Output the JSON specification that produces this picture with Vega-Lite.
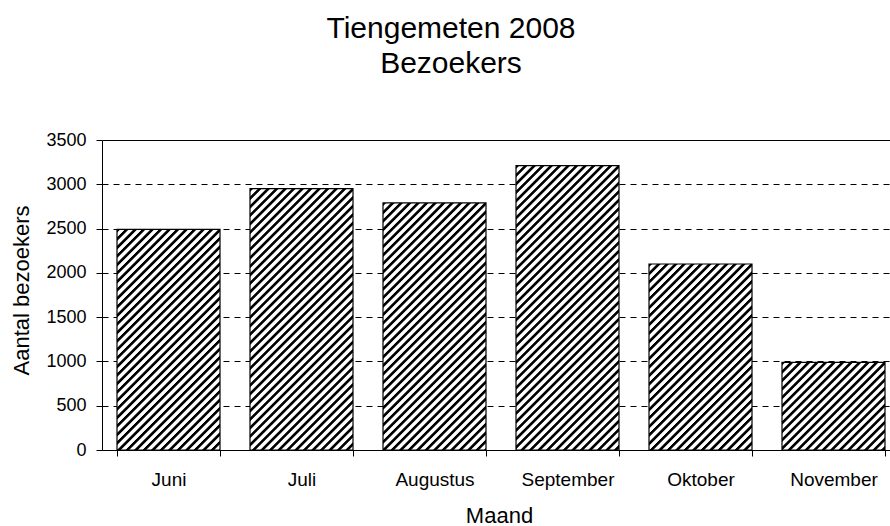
{
"$schema":"https://vega.github.io/schema/vega-lite/v6.json",
"autosize":{"type":"none"},
"padding":{"left":102,"top":140,"right":0,"bottom":76},
"width":788,"height":310,
"background":"white",
"config":{"view":{"stroke":null},"font":"Liberation Sans"},
"title":{"text":["Tiengemeten 2008","Bezoekers"],"font":"Liberation Sans","fontSize":30,"fontWeight":"normal","color":"black","lineHeight":35,"anchor":"middle","frame":"group","dx":-45,"offset":52},
"data":{"values":[
{"Maand":"Juni","Bezoekers":2490},
{"Maand":"Juli","Bezoekers":2950},
{"Maand":"Augustus","Bezoekers":2790},
{"Maand":"September","Bezoekers":3210},
{"Maand":"Oktober","Bezoekers":2100},
{"Maand":"November","Bezoekers":990}
]},
"mark":{"type":"bar","stroke":"black","strokeWidth":1.2},
"encoding":{
"x":{"field":"Maand","type":"nominal","sort":null,
"scale":{"range":[0,798],"paddingInner":0.225564,"paddingOuter":0.112782},
"axis":{"title":"Maand","titleFont":"Liberation Sans","titleFontSize":22,"titleFontWeight":"normal","titleColor":"black","titleX":397,"titleY":72,"titleBaseline":"alphabetic","titleAlign":"center","labelAngle":0,"labelFont":"Liberation Sans","labelFontSize":19,"labelColor":"black","labelPadding":14,"tickSize":6,"tickColor":"black","tickWidth":1,"domainColor":"black","domainWidth":1,"tickBand":"extent","grid":false}},
"y":{"field":"Bezoekers","type":"quantitative",
"scale":{"domain":[0,3500],"nice":false},
"axis":{"title":"Aantal bezoekers","titleFont":"Liberation Sans","titleFontSize":22,"titleFontWeight":"normal","titleColor":"black","titleX":-74,"titleY":150,"titleAngle":-90,"titleBaseline":"alphabetic","titleAlign":"center","values":[0,500,1000,1500,2000,2500,3000,3500],"format":"d","labelFont":"Liberation Sans","labelFontSize":18,"labelColor":"black","labelPadding":10,"tickSize":6,"tickColor":"black","tickWidth":1,"domainColor":"black","domainWidth":1,"grid":true,"gridColor":"black","gridWidth":1,"gridDash":{"condition":{"test":"datum.value === 3500","value":[]},"value":[6,5]}}},
"fill":{"condition":[
{"test":"datum.Maand==='Juni'","value":{"gradient":"linear","x1":0,"y1":0,"x2":0.7389,"y2":1.5821,"stops":[
{"offset":0,"color":"#000"},{"offset":0.006,"color":"#000"},{"offset":0.009,"color":"#fff"},{"offset":0.0175,"color":"#fff"},
{"offset":0.02,"color":"#000"},{"offset":0.026,"color":"#000"},{"offset":0.029,"color":"#fff"},{"offset":0.0375,"color":"#fff"},
{"offset":0.04,"color":"#000"},{"offset":0.046,"color":"#000"},{"offset":0.049,"color":"#fff"},{"offset":0.0575,"color":"#fff"},
{"offset":0.06,"color":"#000"},{"offset":0.066,"color":"#000"},{"offset":0.069,"color":"#fff"},{"offset":0.0775,"color":"#fff"},
{"offset":0.08,"color":"#000"},{"offset":0.086,"color":"#000"},{"offset":0.089,"color":"#fff"},{"offset":0.0975,"color":"#fff"},
{"offset":0.1,"color":"#000"},{"offset":0.106,"color":"#000"},{"offset":0.109,"color":"#fff"},{"offset":0.1175,"color":"#fff"},
{"offset":0.12,"color":"#000"},{"offset":0.126,"color":"#000"},{"offset":0.129,"color":"#fff"},{"offset":0.1375,"color":"#fff"},
{"offset":0.14,"color":"#000"},{"offset":0.146,"color":"#000"},{"offset":0.149,"color":"#fff"},{"offset":0.1575,"color":"#fff"},
{"offset":0.16,"color":"#000"},{"offset":0.166,"color":"#000"},{"offset":0.169,"color":"#fff"},{"offset":0.1775,"color":"#fff"},
{"offset":0.18,"color":"#000"},{"offset":0.186,"color":"#000"},{"offset":0.189,"color":"#fff"},{"offset":0.1975,"color":"#fff"},
{"offset":0.2,"color":"#000"},{"offset":0.206,"color":"#000"},{"offset":0.209,"color":"#fff"},{"offset":0.2175,"color":"#fff"},
{"offset":0.22,"color":"#000"},{"offset":0.226,"color":"#000"},{"offset":0.229,"color":"#fff"},{"offset":0.2375,"color":"#fff"},
{"offset":0.24,"color":"#000"},{"offset":0.246,"color":"#000"},{"offset":0.249,"color":"#fff"},{"offset":0.2575,"color":"#fff"},
{"offset":0.26,"color":"#000"},{"offset":0.266,"color":"#000"},{"offset":0.269,"color":"#fff"},{"offset":0.2775,"color":"#fff"},
{"offset":0.28,"color":"#000"},{"offset":0.286,"color":"#000"},{"offset":0.289,"color":"#fff"},{"offset":0.2975,"color":"#fff"},
{"offset":0.3,"color":"#000"},{"offset":0.306,"color":"#000"},{"offset":0.309,"color":"#fff"},{"offset":0.3175,"color":"#fff"},
{"offset":0.32,"color":"#000"},{"offset":0.326,"color":"#000"},{"offset":0.329,"color":"#fff"},{"offset":0.3375,"color":"#fff"},
{"offset":0.34,"color":"#000"},{"offset":0.346,"color":"#000"},{"offset":0.349,"color":"#fff"},{"offset":0.3575,"color":"#fff"},
{"offset":0.36,"color":"#000"},{"offset":0.366,"color":"#000"},{"offset":0.369,"color":"#fff"},{"offset":0.3775,"color":"#fff"},
{"offset":0.38,"color":"#000"},{"offset":0.386,"color":"#000"},{"offset":0.389,"color":"#fff"},{"offset":0.3975,"color":"#fff"},
{"offset":0.4,"color":"#000"},{"offset":0.406,"color":"#000"},{"offset":0.409,"color":"#fff"},{"offset":0.4175,"color":"#fff"},
{"offset":0.42,"color":"#000"},{"offset":0.426,"color":"#000"},{"offset":0.429,"color":"#fff"},{"offset":0.4375,"color":"#fff"},
{"offset":0.44,"color":"#000"},{"offset":0.446,"color":"#000"},{"offset":0.449,"color":"#fff"},{"offset":0.4575,"color":"#fff"},
{"offset":0.46,"color":"#000"},{"offset":0.466,"color":"#000"},{"offset":0.469,"color":"#fff"},{"offset":0.4775,"color":"#fff"},
{"offset":0.48,"color":"#000"},{"offset":0.486,"color":"#000"},{"offset":0.489,"color":"#fff"},{"offset":0.4975,"color":"#fff"},
{"offset":0.5,"color":"#000"},{"offset":0.506,"color":"#000"},{"offset":0.509,"color":"#fff"},{"offset":0.5175,"color":"#fff"},
{"offset":0.52,"color":"#000"},{"offset":0.526,"color":"#000"},{"offset":0.529,"color":"#fff"},{"offset":0.5375,"color":"#fff"},
{"offset":0.54,"color":"#000"},{"offset":0.546,"color":"#000"},{"offset":0.549,"color":"#fff"},{"offset":0.5575,"color":"#fff"},
{"offset":0.56,"color":"#000"},{"offset":0.566,"color":"#000"},{"offset":0.569,"color":"#fff"},{"offset":0.5775,"color":"#fff"},
{"offset":0.58,"color":"#000"},{"offset":0.586,"color":"#000"},{"offset":0.589,"color":"#fff"},{"offset":0.5975,"color":"#fff"},
{"offset":0.6,"color":"#000"},{"offset":0.606,"color":"#000"},{"offset":0.609,"color":"#fff"},{"offset":0.6175,"color":"#fff"},
{"offset":0.62,"color":"#000"},{"offset":0.626,"color":"#000"},{"offset":0.629,"color":"#fff"},{"offset":0.6375,"color":"#fff"},
{"offset":0.64,"color":"#000"},{"offset":0.646,"color":"#000"},{"offset":0.649,"color":"#fff"},{"offset":0.6575,"color":"#fff"},
{"offset":0.66,"color":"#000"},{"offset":0.666,"color":"#000"},{"offset":0.669,"color":"#fff"},{"offset":0.6775,"color":"#fff"},
{"offset":0.68,"color":"#000"},{"offset":0.686,"color":"#000"},{"offset":0.689,"color":"#fff"},{"offset":0.6975,"color":"#fff"},
{"offset":0.7,"color":"#000"},{"offset":0.706,"color":"#000"},{"offset":0.709,"color":"#fff"},{"offset":0.7175,"color":"#fff"},
{"offset":0.72,"color":"#000"},{"offset":0.726,"color":"#000"},{"offset":0.729,"color":"#fff"},{"offset":0.7375,"color":"#fff"},
{"offset":0.74,"color":"#000"},{"offset":0.746,"color":"#000"},{"offset":0.749,"color":"#fff"},{"offset":0.7575,"color":"#fff"},
{"offset":0.76,"color":"#000"},{"offset":0.766,"color":"#000"},{"offset":0.769,"color":"#fff"},{"offset":0.7775,"color":"#fff"}
]}},
{"test":"datum.Maand==='Juli'","value":{"gradient":"linear","x1":0,"y1":0,"x2":0.5549,"y2":1.4078,"stops":[
{"offset":0,"color":"#000"},{"offset":0.006,"color":"#000"},{"offset":0.009,"color":"#fff"},{"offset":0.0175,"color":"#fff"},
{"offset":0.02,"color":"#000"},{"offset":0.026,"color":"#000"},{"offset":0.029,"color":"#fff"},{"offset":0.0375,"color":"#fff"},
{"offset":0.04,"color":"#000"},{"offset":0.046,"color":"#000"},{"offset":0.049,"color":"#fff"},{"offset":0.0575,"color":"#fff"},
{"offset":0.06,"color":"#000"},{"offset":0.066,"color":"#000"},{"offset":0.069,"color":"#fff"},{"offset":0.0775,"color":"#fff"},
{"offset":0.08,"color":"#000"},{"offset":0.086,"color":"#000"},{"offset":0.089,"color":"#fff"},{"offset":0.0975,"color":"#fff"},
{"offset":0.1,"color":"#000"},{"offset":0.106,"color":"#000"},{"offset":0.109,"color":"#fff"},{"offset":0.1175,"color":"#fff"},
{"offset":0.12,"color":"#000"},{"offset":0.126,"color":"#000"},{"offset":0.129,"color":"#fff"},{"offset":0.1375,"color":"#fff"},
{"offset":0.14,"color":"#000"},{"offset":0.146,"color":"#000"},{"offset":0.149,"color":"#fff"},{"offset":0.1575,"color":"#fff"},
{"offset":0.16,"color":"#000"},{"offset":0.166,"color":"#000"},{"offset":0.169,"color":"#fff"},{"offset":0.1775,"color":"#fff"},
{"offset":0.18,"color":"#000"},{"offset":0.186,"color":"#000"},{"offset":0.189,"color":"#fff"},{"offset":0.1975,"color":"#fff"},
{"offset":0.2,"color":"#000"},{"offset":0.206,"color":"#000"},{"offset":0.209,"color":"#fff"},{"offset":0.2175,"color":"#fff"},
{"offset":0.22,"color":"#000"},{"offset":0.226,"color":"#000"},{"offset":0.229,"color":"#fff"},{"offset":0.2375,"color":"#fff"},
{"offset":0.24,"color":"#000"},{"offset":0.246,"color":"#000"},{"offset":0.249,"color":"#fff"},{"offset":0.2575,"color":"#fff"},
{"offset":0.26,"color":"#000"},{"offset":0.266,"color":"#000"},{"offset":0.269,"color":"#fff"},{"offset":0.2775,"color":"#fff"},
{"offset":0.28,"color":"#000"},{"offset":0.286,"color":"#000"},{"offset":0.289,"color":"#fff"},{"offset":0.2975,"color":"#fff"},
{"offset":0.3,"color":"#000"},{"offset":0.306,"color":"#000"},{"offset":0.309,"color":"#fff"},{"offset":0.3175,"color":"#fff"},
{"offset":0.32,"color":"#000"},{"offset":0.326,"color":"#000"},{"offset":0.329,"color":"#fff"},{"offset":0.3375,"color":"#fff"},
{"offset":0.34,"color":"#000"},{"offset":0.346,"color":"#000"},{"offset":0.349,"color":"#fff"},{"offset":0.3575,"color":"#fff"},
{"offset":0.36,"color":"#000"},{"offset":0.366,"color":"#000"},{"offset":0.369,"color":"#fff"},{"offset":0.3775,"color":"#fff"},
{"offset":0.38,"color":"#000"},{"offset":0.386,"color":"#000"},{"offset":0.389,"color":"#fff"},{"offset":0.3975,"color":"#fff"},
{"offset":0.4,"color":"#000"},{"offset":0.406,"color":"#000"},{"offset":0.409,"color":"#fff"},{"offset":0.4175,"color":"#fff"},
{"offset":0.42,"color":"#000"},{"offset":0.426,"color":"#000"},{"offset":0.429,"color":"#fff"},{"offset":0.4375,"color":"#fff"},
{"offset":0.44,"color":"#000"},{"offset":0.446,"color":"#000"},{"offset":0.449,"color":"#fff"},{"offset":0.4575,"color":"#fff"},
{"offset":0.46,"color":"#000"},{"offset":0.466,"color":"#000"},{"offset":0.469,"color":"#fff"},{"offset":0.4775,"color":"#fff"},
{"offset":0.48,"color":"#000"},{"offset":0.486,"color":"#000"},{"offset":0.489,"color":"#fff"},{"offset":0.4975,"color":"#fff"},
{"offset":0.5,"color":"#000"},{"offset":0.506,"color":"#000"},{"offset":0.509,"color":"#fff"},{"offset":0.5175,"color":"#fff"},
{"offset":0.52,"color":"#000"},{"offset":0.526,"color":"#000"},{"offset":0.529,"color":"#fff"},{"offset":0.5375,"color":"#fff"},
{"offset":0.54,"color":"#000"},{"offset":0.546,"color":"#000"},{"offset":0.549,"color":"#fff"},{"offset":0.5575,"color":"#fff"},
{"offset":0.56,"color":"#000"},{"offset":0.566,"color":"#000"},{"offset":0.569,"color":"#fff"},{"offset":0.5775,"color":"#fff"},
{"offset":0.58,"color":"#000"},{"offset":0.586,"color":"#000"},{"offset":0.589,"color":"#fff"},{"offset":0.5975,"color":"#fff"},
{"offset":0.6,"color":"#000"},{"offset":0.606,"color":"#000"},{"offset":0.609,"color":"#fff"},{"offset":0.6175,"color":"#fff"},
{"offset":0.62,"color":"#000"},{"offset":0.626,"color":"#000"},{"offset":0.629,"color":"#fff"},{"offset":0.6375,"color":"#fff"},
{"offset":0.64,"color":"#000"},{"offset":0.646,"color":"#000"},{"offset":0.649,"color":"#fff"},{"offset":0.6575,"color":"#fff"},
{"offset":0.66,"color":"#000"},{"offset":0.666,"color":"#000"},{"offset":0.669,"color":"#fff"},{"offset":0.6775,"color":"#fff"},
{"offset":0.68,"color":"#000"},{"offset":0.686,"color":"#000"},{"offset":0.689,"color":"#fff"},{"offset":0.6975,"color":"#fff"},
{"offset":0.7,"color":"#000"},{"offset":0.706,"color":"#000"},{"offset":0.709,"color":"#fff"},{"offset":0.7175,"color":"#fff"},
{"offset":0.72,"color":"#000"},{"offset":0.726,"color":"#000"},{"offset":0.729,"color":"#fff"},{"offset":0.7375,"color":"#fff"},
{"offset":0.74,"color":"#000"},{"offset":0.746,"color":"#000"},{"offset":0.749,"color":"#fff"},{"offset":0.7575,"color":"#fff"},
{"offset":0.76,"color":"#000"},{"offset":0.766,"color":"#000"},{"offset":0.769,"color":"#fff"},{"offset":0.7775,"color":"#fff"},
{"offset":0.78,"color":"#000"},{"offset":0.786,"color":"#000"},{"offset":0.789,"color":"#fff"},{"offset":0.7975,"color":"#fff"},
{"offset":0.8,"color":"#000"},{"offset":0.806,"color":"#000"},{"offset":0.809,"color":"#fff"},{"offset":0.8175,"color":"#fff"},
{"offset":0.82,"color":"#000"},{"offset":0.826,"color":"#000"},{"offset":0.829,"color":"#fff"},{"offset":0.8375,"color":"#fff"},
{"offset":0.84,"color":"#000"},{"offset":0.846,"color":"#000"},{"offset":0.849,"color":"#fff"},{"offset":0.8575,"color":"#fff"}
]}},
{"test":"datum.Maand==='Augustus'","value":{"gradient":"linear","x1":0,"y1":0,"x2":0.6107,"y2":1.4653,"stops":[
{"offset":0,"color":"#000"},{"offset":0.006,"color":"#000"},{"offset":0.009,"color":"#fff"},{"offset":0.0175,"color":"#fff"},
{"offset":0.02,"color":"#000"},{"offset":0.026,"color":"#000"},{"offset":0.029,"color":"#fff"},{"offset":0.0375,"color":"#fff"},
{"offset":0.04,"color":"#000"},{"offset":0.046,"color":"#000"},{"offset":0.049,"color":"#fff"},{"offset":0.0575,"color":"#fff"},
{"offset":0.06,"color":"#000"},{"offset":0.066,"color":"#000"},{"offset":0.069,"color":"#fff"},{"offset":0.0775,"color":"#fff"},
{"offset":0.08,"color":"#000"},{"offset":0.086,"color":"#000"},{"offset":0.089,"color":"#fff"},{"offset":0.0975,"color":"#fff"},
{"offset":0.1,"color":"#000"},{"offset":0.106,"color":"#000"},{"offset":0.109,"color":"#fff"},{"offset":0.1175,"color":"#fff"},
{"offset":0.12,"color":"#000"},{"offset":0.126,"color":"#000"},{"offset":0.129,"color":"#fff"},{"offset":0.1375,"color":"#fff"},
{"offset":0.14,"color":"#000"},{"offset":0.146,"color":"#000"},{"offset":0.149,"color":"#fff"},{"offset":0.1575,"color":"#fff"},
{"offset":0.16,"color":"#000"},{"offset":0.166,"color":"#000"},{"offset":0.169,"color":"#fff"},{"offset":0.1775,"color":"#fff"},
{"offset":0.18,"color":"#000"},{"offset":0.186,"color":"#000"},{"offset":0.189,"color":"#fff"},{"offset":0.1975,"color":"#fff"},
{"offset":0.2,"color":"#000"},{"offset":0.206,"color":"#000"},{"offset":0.209,"color":"#fff"},{"offset":0.2175,"color":"#fff"},
{"offset":0.22,"color":"#000"},{"offset":0.226,"color":"#000"},{"offset":0.229,"color":"#fff"},{"offset":0.2375,"color":"#fff"},
{"offset":0.24,"color":"#000"},{"offset":0.246,"color":"#000"},{"offset":0.249,"color":"#fff"},{"offset":0.2575,"color":"#fff"},
{"offset":0.26,"color":"#000"},{"offset":0.266,"color":"#000"},{"offset":0.269,"color":"#fff"},{"offset":0.2775,"color":"#fff"},
{"offset":0.28,"color":"#000"},{"offset":0.286,"color":"#000"},{"offset":0.289,"color":"#fff"},{"offset":0.2975,"color":"#fff"},
{"offset":0.3,"color":"#000"},{"offset":0.306,"color":"#000"},{"offset":0.309,"color":"#fff"},{"offset":0.3175,"color":"#fff"},
{"offset":0.32,"color":"#000"},{"offset":0.326,"color":"#000"},{"offset":0.329,"color":"#fff"},{"offset":0.3375,"color":"#fff"},
{"offset":0.34,"color":"#000"},{"offset":0.346,"color":"#000"},{"offset":0.349,"color":"#fff"},{"offset":0.3575,"color":"#fff"},
{"offset":0.36,"color":"#000"},{"offset":0.366,"color":"#000"},{"offset":0.369,"color":"#fff"},{"offset":0.3775,"color":"#fff"},
{"offset":0.38,"color":"#000"},{"offset":0.386,"color":"#000"},{"offset":0.389,"color":"#fff"},{"offset":0.3975,"color":"#fff"},
{"offset":0.4,"color":"#000"},{"offset":0.406,"color":"#000"},{"offset":0.409,"color":"#fff"},{"offset":0.4175,"color":"#fff"},
{"offset":0.42,"color":"#000"},{"offset":0.426,"color":"#000"},{"offset":0.429,"color":"#fff"},{"offset":0.4375,"color":"#fff"},
{"offset":0.44,"color":"#000"},{"offset":0.446,"color":"#000"},{"offset":0.449,"color":"#fff"},{"offset":0.4575,"color":"#fff"},
{"offset":0.46,"color":"#000"},{"offset":0.466,"color":"#000"},{"offset":0.469,"color":"#fff"},{"offset":0.4775,"color":"#fff"},
{"offset":0.48,"color":"#000"},{"offset":0.486,"color":"#000"},{"offset":0.489,"color":"#fff"},{"offset":0.4975,"color":"#fff"},
{"offset":0.5,"color":"#000"},{"offset":0.506,"color":"#000"},{"offset":0.509,"color":"#fff"},{"offset":0.5175,"color":"#fff"},
{"offset":0.52,"color":"#000"},{"offset":0.526,"color":"#000"},{"offset":0.529,"color":"#fff"},{"offset":0.5375,"color":"#fff"},
{"offset":0.54,"color":"#000"},{"offset":0.546,"color":"#000"},{"offset":0.549,"color":"#fff"},{"offset":0.5575,"color":"#fff"},
{"offset":0.56,"color":"#000"},{"offset":0.566,"color":"#000"},{"offset":0.569,"color":"#fff"},{"offset":0.5775,"color":"#fff"},
{"offset":0.58,"color":"#000"},{"offset":0.586,"color":"#000"},{"offset":0.589,"color":"#fff"},{"offset":0.5975,"color":"#fff"},
{"offset":0.6,"color":"#000"},{"offset":0.606,"color":"#000"},{"offset":0.609,"color":"#fff"},{"offset":0.6175,"color":"#fff"},
{"offset":0.62,"color":"#000"},{"offset":0.626,"color":"#000"},{"offset":0.629,"color":"#fff"},{"offset":0.6375,"color":"#fff"},
{"offset":0.64,"color":"#000"},{"offset":0.646,"color":"#000"},{"offset":0.649,"color":"#fff"},{"offset":0.6575,"color":"#fff"},
{"offset":0.66,"color":"#000"},{"offset":0.666,"color":"#000"},{"offset":0.669,"color":"#fff"},{"offset":0.6775,"color":"#fff"},
{"offset":0.68,"color":"#000"},{"offset":0.686,"color":"#000"},{"offset":0.689,"color":"#fff"},{"offset":0.6975,"color":"#fff"},
{"offset":0.7,"color":"#000"},{"offset":0.706,"color":"#000"},{"offset":0.709,"color":"#fff"},{"offset":0.7175,"color":"#fff"},
{"offset":0.72,"color":"#000"},{"offset":0.726,"color":"#000"},{"offset":0.729,"color":"#fff"},{"offset":0.7375,"color":"#fff"},
{"offset":0.74,"color":"#000"},{"offset":0.746,"color":"#000"},{"offset":0.749,"color":"#fff"},{"offset":0.7575,"color":"#fff"},
{"offset":0.76,"color":"#000"},{"offset":0.766,"color":"#000"},{"offset":0.769,"color":"#fff"},{"offset":0.7775,"color":"#fff"},
{"offset":0.78,"color":"#000"},{"offset":0.786,"color":"#000"},{"offset":0.789,"color":"#fff"},{"offset":0.7975,"color":"#fff"},
{"offset":0.8,"color":"#000"},{"offset":0.806,"color":"#000"},{"offset":0.809,"color":"#fff"},{"offset":0.8175,"color":"#fff"},
{"offset":0.82,"color":"#000"},{"offset":0.826,"color":"#000"},{"offset":0.829,"color":"#fff"},{"offset":0.8375,"color":"#fff"}
]}},
{"test":"datum.Maand==='September'","value":{"gradient":"linear","x1":0,"y1":0,"x2":0.4788,"y2":1.3214,"stops":[
{"offset":0,"color":"#000"},{"offset":0.006,"color":"#000"},{"offset":0.009,"color":"#fff"},{"offset":0.0175,"color":"#fff"},
{"offset":0.02,"color":"#000"},{"offset":0.026,"color":"#000"},{"offset":0.029,"color":"#fff"},{"offset":0.0375,"color":"#fff"},
{"offset":0.04,"color":"#000"},{"offset":0.046,"color":"#000"},{"offset":0.049,"color":"#fff"},{"offset":0.0575,"color":"#fff"},
{"offset":0.06,"color":"#000"},{"offset":0.066,"color":"#000"},{"offset":0.069,"color":"#fff"},{"offset":0.0775,"color":"#fff"},
{"offset":0.08,"color":"#000"},{"offset":0.086,"color":"#000"},{"offset":0.089,"color":"#fff"},{"offset":0.0975,"color":"#fff"},
{"offset":0.1,"color":"#000"},{"offset":0.106,"color":"#000"},{"offset":0.109,"color":"#fff"},{"offset":0.1175,"color":"#fff"},
{"offset":0.12,"color":"#000"},{"offset":0.126,"color":"#000"},{"offset":0.129,"color":"#fff"},{"offset":0.1375,"color":"#fff"},
{"offset":0.14,"color":"#000"},{"offset":0.146,"color":"#000"},{"offset":0.149,"color":"#fff"},{"offset":0.1575,"color":"#fff"},
{"offset":0.16,"color":"#000"},{"offset":0.166,"color":"#000"},{"offset":0.169,"color":"#fff"},{"offset":0.1775,"color":"#fff"},
{"offset":0.18,"color":"#000"},{"offset":0.186,"color":"#000"},{"offset":0.189,"color":"#fff"},{"offset":0.1975,"color":"#fff"},
{"offset":0.2,"color":"#000"},{"offset":0.206,"color":"#000"},{"offset":0.209,"color":"#fff"},{"offset":0.2175,"color":"#fff"},
{"offset":0.22,"color":"#000"},{"offset":0.226,"color":"#000"},{"offset":0.229,"color":"#fff"},{"offset":0.2375,"color":"#fff"},
{"offset":0.24,"color":"#000"},{"offset":0.246,"color":"#000"},{"offset":0.249,"color":"#fff"},{"offset":0.2575,"color":"#fff"},
{"offset":0.26,"color":"#000"},{"offset":0.266,"color":"#000"},{"offset":0.269,"color":"#fff"},{"offset":0.2775,"color":"#fff"},
{"offset":0.28,"color":"#000"},{"offset":0.286,"color":"#000"},{"offset":0.289,"color":"#fff"},{"offset":0.2975,"color":"#fff"},
{"offset":0.3,"color":"#000"},{"offset":0.306,"color":"#000"},{"offset":0.309,"color":"#fff"},{"offset":0.3175,"color":"#fff"},
{"offset":0.32,"color":"#000"},{"offset":0.326,"color":"#000"},{"offset":0.329,"color":"#fff"},{"offset":0.3375,"color":"#fff"},
{"offset":0.34,"color":"#000"},{"offset":0.346,"color":"#000"},{"offset":0.349,"color":"#fff"},{"offset":0.3575,"color":"#fff"},
{"offset":0.36,"color":"#000"},{"offset":0.366,"color":"#000"},{"offset":0.369,"color":"#fff"},{"offset":0.3775,"color":"#fff"},
{"offset":0.38,"color":"#000"},{"offset":0.386,"color":"#000"},{"offset":0.389,"color":"#fff"},{"offset":0.3975,"color":"#fff"},
{"offset":0.4,"color":"#000"},{"offset":0.406,"color":"#000"},{"offset":0.409,"color":"#fff"},{"offset":0.4175,"color":"#fff"},
{"offset":0.42,"color":"#000"},{"offset":0.426,"color":"#000"},{"offset":0.429,"color":"#fff"},{"offset":0.4375,"color":"#fff"},
{"offset":0.44,"color":"#000"},{"offset":0.446,"color":"#000"},{"offset":0.449,"color":"#fff"},{"offset":0.4575,"color":"#fff"},
{"offset":0.46,"color":"#000"},{"offset":0.466,"color":"#000"},{"offset":0.469,"color":"#fff"},{"offset":0.4775,"color":"#fff"},
{"offset":0.48,"color":"#000"},{"offset":0.486,"color":"#000"},{"offset":0.489,"color":"#fff"},{"offset":0.4975,"color":"#fff"},
{"offset":0.5,"color":"#000"},{"offset":0.506,"color":"#000"},{"offset":0.509,"color":"#fff"},{"offset":0.5175,"color":"#fff"},
{"offset":0.52,"color":"#000"},{"offset":0.526,"color":"#000"},{"offset":0.529,"color":"#fff"},{"offset":0.5375,"color":"#fff"},
{"offset":0.54,"color":"#000"},{"offset":0.546,"color":"#000"},{"offset":0.549,"color":"#fff"},{"offset":0.5575,"color":"#fff"},
{"offset":0.56,"color":"#000"},{"offset":0.566,"color":"#000"},{"offset":0.569,"color":"#fff"},{"offset":0.5775,"color":"#fff"},
{"offset":0.58,"color":"#000"},{"offset":0.586,"color":"#000"},{"offset":0.589,"color":"#fff"},{"offset":0.5975,"color":"#fff"},
{"offset":0.6,"color":"#000"},{"offset":0.606,"color":"#000"},{"offset":0.609,"color":"#fff"},{"offset":0.6175,"color":"#fff"},
{"offset":0.62,"color":"#000"},{"offset":0.626,"color":"#000"},{"offset":0.629,"color":"#fff"},{"offset":0.6375,"color":"#fff"},
{"offset":0.64,"color":"#000"},{"offset":0.646,"color":"#000"},{"offset":0.649,"color":"#fff"},{"offset":0.6575,"color":"#fff"},
{"offset":0.66,"color":"#000"},{"offset":0.666,"color":"#000"},{"offset":0.669,"color":"#fff"},{"offset":0.6775,"color":"#fff"},
{"offset":0.68,"color":"#000"},{"offset":0.686,"color":"#000"},{"offset":0.689,"color":"#fff"},{"offset":0.6975,"color":"#fff"},
{"offset":0.7,"color":"#000"},{"offset":0.706,"color":"#000"},{"offset":0.709,"color":"#fff"},{"offset":0.7175,"color":"#fff"},
{"offset":0.72,"color":"#000"},{"offset":0.726,"color":"#000"},{"offset":0.729,"color":"#fff"},{"offset":0.7375,"color":"#fff"},
{"offset":0.74,"color":"#000"},{"offset":0.746,"color":"#000"},{"offset":0.749,"color":"#fff"},{"offset":0.7575,"color":"#fff"},
{"offset":0.76,"color":"#000"},{"offset":0.766,"color":"#000"},{"offset":0.769,"color":"#fff"},{"offset":0.7775,"color":"#fff"},
{"offset":0.78,"color":"#000"},{"offset":0.786,"color":"#000"},{"offset":0.789,"color":"#fff"},{"offset":0.7975,"color":"#fff"},
{"offset":0.8,"color":"#000"},{"offset":0.806,"color":"#000"},{"offset":0.809,"color":"#fff"},{"offset":0.8175,"color":"#fff"},
{"offset":0.82,"color":"#000"},{"offset":0.826,"color":"#000"},{"offset":0.829,"color":"#fff"},{"offset":0.8375,"color":"#fff"},
{"offset":0.84,"color":"#000"},{"offset":0.846,"color":"#000"},{"offset":0.849,"color":"#fff"},{"offset":0.8575,"color":"#fff"},
{"offset":0.86,"color":"#000"},{"offset":0.866,"color":"#000"},{"offset":0.869,"color":"#fff"},{"offset":0.8775,"color":"#fff"},
{"offset":0.88,"color":"#000"},{"offset":0.886,"color":"#000"},{"offset":0.889,"color":"#fff"},{"offset":0.8975,"color":"#fff"},
{"offset":0.9,"color":"#000"},{"offset":0.906,"color":"#000"},{"offset":0.909,"color":"#fff"},{"offset":0.9175,"color":"#fff"}
]}},
{"test":"datum.Maand==='Oktober'","value":{"gradient":"linear","x1":0,"y1":0,"x2":0.9684,"y2":1.7487,"stops":[
{"offset":0,"color":"#000"},{"offset":0.006,"color":"#000"},{"offset":0.009,"color":"#fff"},{"offset":0.0175,"color":"#fff"},
{"offset":0.02,"color":"#000"},{"offset":0.026,"color":"#000"},{"offset":0.029,"color":"#fff"},{"offset":0.0375,"color":"#fff"},
{"offset":0.04,"color":"#000"},{"offset":0.046,"color":"#000"},{"offset":0.049,"color":"#fff"},{"offset":0.0575,"color":"#fff"},
{"offset":0.06,"color":"#000"},{"offset":0.066,"color":"#000"},{"offset":0.069,"color":"#fff"},{"offset":0.0775,"color":"#fff"},
{"offset":0.08,"color":"#000"},{"offset":0.086,"color":"#000"},{"offset":0.089,"color":"#fff"},{"offset":0.0975,"color":"#fff"},
{"offset":0.1,"color":"#000"},{"offset":0.106,"color":"#000"},{"offset":0.109,"color":"#fff"},{"offset":0.1175,"color":"#fff"},
{"offset":0.12,"color":"#000"},{"offset":0.126,"color":"#000"},{"offset":0.129,"color":"#fff"},{"offset":0.1375,"color":"#fff"},
{"offset":0.14,"color":"#000"},{"offset":0.146,"color":"#000"},{"offset":0.149,"color":"#fff"},{"offset":0.1575,"color":"#fff"},
{"offset":0.16,"color":"#000"},{"offset":0.166,"color":"#000"},{"offset":0.169,"color":"#fff"},{"offset":0.1775,"color":"#fff"},
{"offset":0.18,"color":"#000"},{"offset":0.186,"color":"#000"},{"offset":0.189,"color":"#fff"},{"offset":0.1975,"color":"#fff"},
{"offset":0.2,"color":"#000"},{"offset":0.206,"color":"#000"},{"offset":0.209,"color":"#fff"},{"offset":0.2175,"color":"#fff"},
{"offset":0.22,"color":"#000"},{"offset":0.226,"color":"#000"},{"offset":0.229,"color":"#fff"},{"offset":0.2375,"color":"#fff"},
{"offset":0.24,"color":"#000"},{"offset":0.246,"color":"#000"},{"offset":0.249,"color":"#fff"},{"offset":0.2575,"color":"#fff"},
{"offset":0.26,"color":"#000"},{"offset":0.266,"color":"#000"},{"offset":0.269,"color":"#fff"},{"offset":0.2775,"color":"#fff"},
{"offset":0.28,"color":"#000"},{"offset":0.286,"color":"#000"},{"offset":0.289,"color":"#fff"},{"offset":0.2975,"color":"#fff"},
{"offset":0.3,"color":"#000"},{"offset":0.306,"color":"#000"},{"offset":0.309,"color":"#fff"},{"offset":0.3175,"color":"#fff"},
{"offset":0.32,"color":"#000"},{"offset":0.326,"color":"#000"},{"offset":0.329,"color":"#fff"},{"offset":0.3375,"color":"#fff"},
{"offset":0.34,"color":"#000"},{"offset":0.346,"color":"#000"},{"offset":0.349,"color":"#fff"},{"offset":0.3575,"color":"#fff"},
{"offset":0.36,"color":"#000"},{"offset":0.366,"color":"#000"},{"offset":0.369,"color":"#fff"},{"offset":0.3775,"color":"#fff"},
{"offset":0.38,"color":"#000"},{"offset":0.386,"color":"#000"},{"offset":0.389,"color":"#fff"},{"offset":0.3975,"color":"#fff"},
{"offset":0.4,"color":"#000"},{"offset":0.406,"color":"#000"},{"offset":0.409,"color":"#fff"},{"offset":0.4175,"color":"#fff"},
{"offset":0.42,"color":"#000"},{"offset":0.426,"color":"#000"},{"offset":0.429,"color":"#fff"},{"offset":0.4375,"color":"#fff"},
{"offset":0.44,"color":"#000"},{"offset":0.446,"color":"#000"},{"offset":0.449,"color":"#fff"},{"offset":0.4575,"color":"#fff"},
{"offset":0.46,"color":"#000"},{"offset":0.466,"color":"#000"},{"offset":0.469,"color":"#fff"},{"offset":0.4775,"color":"#fff"},
{"offset":0.48,"color":"#000"},{"offset":0.486,"color":"#000"},{"offset":0.489,"color":"#fff"},{"offset":0.4975,"color":"#fff"},
{"offset":0.5,"color":"#000"},{"offset":0.506,"color":"#000"},{"offset":0.509,"color":"#fff"},{"offset":0.5175,"color":"#fff"},
{"offset":0.52,"color":"#000"},{"offset":0.526,"color":"#000"},{"offset":0.529,"color":"#fff"},{"offset":0.5375,"color":"#fff"},
{"offset":0.54,"color":"#000"},{"offset":0.546,"color":"#000"},{"offset":0.549,"color":"#fff"},{"offset":0.5575,"color":"#fff"},
{"offset":0.56,"color":"#000"},{"offset":0.566,"color":"#000"},{"offset":0.569,"color":"#fff"},{"offset":0.5775,"color":"#fff"},
{"offset":0.58,"color":"#000"},{"offset":0.586,"color":"#000"},{"offset":0.589,"color":"#fff"},{"offset":0.5975,"color":"#fff"},
{"offset":0.6,"color":"#000"},{"offset":0.606,"color":"#000"},{"offset":0.609,"color":"#fff"},{"offset":0.6175,"color":"#fff"},
{"offset":0.62,"color":"#000"},{"offset":0.626,"color":"#000"},{"offset":0.629,"color":"#fff"},{"offset":0.6375,"color":"#fff"},
{"offset":0.64,"color":"#000"},{"offset":0.646,"color":"#000"},{"offset":0.649,"color":"#fff"},{"offset":0.6575,"color":"#fff"},
{"offset":0.66,"color":"#000"},{"offset":0.666,"color":"#000"},{"offset":0.669,"color":"#fff"},{"offset":0.6775,"color":"#fff"},
{"offset":0.68,"color":"#000"},{"offset":0.686,"color":"#000"},{"offset":0.689,"color":"#fff"},{"offset":0.6975,"color":"#fff"}
]}},
{"test":"datum.Maand==='November'","value":{"gradient":"linear","x1":0,"y1":0,"x2":2.3923,"y2":2.0367,"stops":[
{"offset":0,"color":"#000"},{"offset":0.006,"color":"#000"},{"offset":0.009,"color":"#fff"},{"offset":0.0175,"color":"#fff"},
{"offset":0.02,"color":"#000"},{"offset":0.026,"color":"#000"},{"offset":0.029,"color":"#fff"},{"offset":0.0375,"color":"#fff"},
{"offset":0.04,"color":"#000"},{"offset":0.046,"color":"#000"},{"offset":0.049,"color":"#fff"},{"offset":0.0575,"color":"#fff"},
{"offset":0.06,"color":"#000"},{"offset":0.066,"color":"#000"},{"offset":0.069,"color":"#fff"},{"offset":0.0775,"color":"#fff"},
{"offset":0.08,"color":"#000"},{"offset":0.086,"color":"#000"},{"offset":0.089,"color":"#fff"},{"offset":0.0975,"color":"#fff"},
{"offset":0.1,"color":"#000"},{"offset":0.106,"color":"#000"},{"offset":0.109,"color":"#fff"},{"offset":0.1175,"color":"#fff"},
{"offset":0.12,"color":"#000"},{"offset":0.126,"color":"#000"},{"offset":0.129,"color":"#fff"},{"offset":0.1375,"color":"#fff"},
{"offset":0.14,"color":"#000"},{"offset":0.146,"color":"#000"},{"offset":0.149,"color":"#fff"},{"offset":0.1575,"color":"#fff"},
{"offset":0.16,"color":"#000"},{"offset":0.166,"color":"#000"},{"offset":0.169,"color":"#fff"},{"offset":0.1775,"color":"#fff"},
{"offset":0.18,"color":"#000"},{"offset":0.186,"color":"#000"},{"offset":0.189,"color":"#fff"},{"offset":0.1975,"color":"#fff"},
{"offset":0.2,"color":"#000"},{"offset":0.206,"color":"#000"},{"offset":0.209,"color":"#fff"},{"offset":0.2175,"color":"#fff"},
{"offset":0.22,"color":"#000"},{"offset":0.226,"color":"#000"},{"offset":0.229,"color":"#fff"},{"offset":0.2375,"color":"#fff"},
{"offset":0.24,"color":"#000"},{"offset":0.246,"color":"#000"},{"offset":0.249,"color":"#fff"},{"offset":0.2575,"color":"#fff"},
{"offset":0.26,"color":"#000"},{"offset":0.266,"color":"#000"},{"offset":0.269,"color":"#fff"},{"offset":0.2775,"color":"#fff"},
{"offset":0.28,"color":"#000"},{"offset":0.286,"color":"#000"},{"offset":0.289,"color":"#fff"},{"offset":0.2975,"color":"#fff"},
{"offset":0.3,"color":"#000"},{"offset":0.306,"color":"#000"},{"offset":0.309,"color":"#fff"},{"offset":0.3175,"color":"#fff"},
{"offset":0.32,"color":"#000"},{"offset":0.326,"color":"#000"},{"offset":0.329,"color":"#fff"},{"offset":0.3375,"color":"#fff"},
{"offset":0.34,"color":"#000"},{"offset":0.346,"color":"#000"},{"offset":0.349,"color":"#fff"},{"offset":0.3575,"color":"#fff"},
{"offset":0.36,"color":"#000"},{"offset":0.366,"color":"#000"},{"offset":0.369,"color":"#fff"},{"offset":0.3775,"color":"#fff"},
{"offset":0.38,"color":"#000"},{"offset":0.386,"color":"#000"},{"offset":0.389,"color":"#fff"},{"offset":0.3975,"color":"#fff"},
{"offset":0.4,"color":"#000"},{"offset":0.406,"color":"#000"},{"offset":0.409,"color":"#fff"},{"offset":0.4175,"color":"#fff"},
{"offset":0.42,"color":"#000"},{"offset":0.426,"color":"#000"},{"offset":0.429,"color":"#fff"},{"offset":0.4375,"color":"#fff"},
{"offset":0.44,"color":"#000"},{"offset":0.446,"color":"#000"},{"offset":0.449,"color":"#fff"},{"offset":0.4575,"color":"#fff"}
]}}
],"value":"#808080"}
}
}
